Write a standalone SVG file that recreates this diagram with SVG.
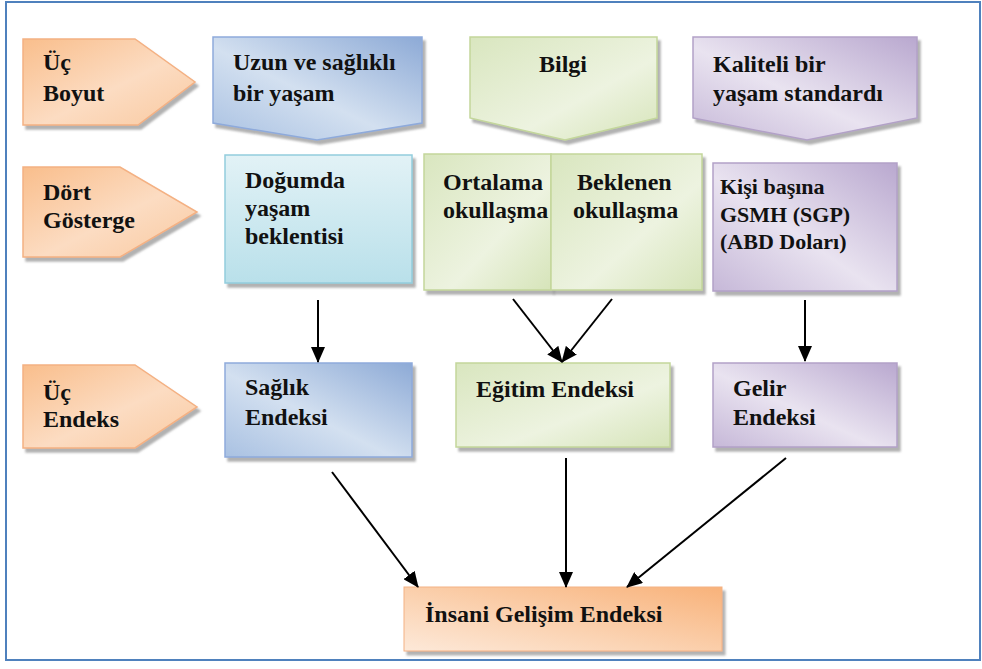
<svg xmlns="http://www.w3.org/2000/svg" width="982" height="669" viewBox="0 0 982 669">
<style>
  text { font-family: "Liberation Serif", "Times New Roman", serif; font-weight: bold; fill: #111; font-size: 24px; }
  .small { font-size: 22px; }
  .conn { stroke: #000; stroke-width: 2; fill: none; marker-end: url(#ah); }
  .shape { filter: url(#sh); stroke-width: 1.5; }
  .orange { fill: url(#gOrange); stroke: #F4B183; }
  .blue { fill: url(#gBlue); stroke: #8EAADB; }
  .cyan { fill: url(#gCyan); stroke: #93CDDD; }
  .green { fill: url(#gGreen); stroke: #C3D69B; }
  .purple { fill: url(#gPurple); stroke: #B2A1C7; }
</style>
<defs>
  <filter id="sh" x="-10%" y="-10%" width="125%" height="130%">
    <feDropShadow dx="3" dy="4" stdDeviation="1" flood-color="#7f7f7f" flood-opacity="0.6"/>
  </filter>
  <linearGradient id="gOrange" x1="0" y1="0" x2="1" y2="1">
    <stop offset="0" stop-color="#F9BE8C"/>
    <stop offset="0.55" stop-color="#FCDCC2"/>
    <stop offset="1" stop-color="#F9C9A0"/>
  </linearGradient>
  <linearGradient id="gOrange2" x1="1" y1="0" x2="0" y2="1">
    <stop offset="0" stop-color="#F8B27A"/>
    <stop offset="0.6" stop-color="#FBD4B4"/>
    <stop offset="1" stop-color="#FDE9D9"/>
  </linearGradient>
  <linearGradient id="gBlue" x1="1" y1="0" x2="0" y2="1">
    <stop offset="0" stop-color="#8DAAD6"/>
    <stop offset="0.55" stop-color="#D3E0F0"/>
    <stop offset="1" stop-color="#A9C1E2"/>
  </linearGradient>
  <linearGradient id="gCyan" x1="0" y1="0" x2="0" y2="1">
    <stop offset="0" stop-color="#E2F2F6"/>
    <stop offset="1" stop-color="#B9E0EA"/>
  </linearGradient>
  <linearGradient id="gGreen" x1="0" y1="0" x2="1" y2="1">
    <stop offset="0" stop-color="#D9E6BF"/>
    <stop offset="0.6" stop-color="#EDF3E0"/>
    <stop offset="1" stop-color="#D6E4B9"/>
  </linearGradient>
  <linearGradient id="gPurple" x1="1" y1="0" x2="0" y2="1">
    <stop offset="0" stop-color="#B9A8CF"/>
    <stop offset="0.55" stop-color="#E9E3F0"/>
    <stop offset="1" stop-color="#C6B8D8"/>
  </linearGradient>
  <marker id="ah" markerUnits="userSpaceOnUse" markerWidth="16" markerHeight="14" refX="15" refY="7" orient="auto">
    <path d="M0,0 L16,7 L0,14 Z" fill="#000"/>
  </marker>
</defs>

<rect x="6" y="2" width="974" height="658" fill="#fff" stroke="#4F81BD" stroke-width="2"/>

<g id="uc-boyut">
  <polygon class="shape orange" points="23,39 135,39 195,82 138,125 23,125"/>
  <text x="43" y="70">Üç</text>
  <text x="43" y="101">Boyut</text>
</g>
<g id="uzun-saglikli">
  <polygon class="shape blue" points="213,37 422,37 422,123 317,140 213,123"/>
  <text x="233" y="70">Uzun ve sağlıklı</text>
  <text x="233" y="101">bir yaşam</text>
</g>
<g id="bilgi">
  <polygon class="shape green" points="470,37 657,37 657,118 565,140 470,118"/>
  <text x="563" y="72" text-anchor="middle">Bilgi</text>
</g>
<g id="kaliteli">
  <polygon class="shape purple" points="693,37 917,37 917,118 807,140 693,118"/>
  <text x="713" y="72">Kaliteli bir</text>
  <text x="713" y="101">yaşam standardı</text>
</g>

<g id="dort-gosterge">
  <polygon class="shape orange" points="23,167 120,167 197,212 120,257 23,257"/>
  <text x="43" y="200">Dört</text>
  <text x="43" y="228">Gösterge</text>
</g>
<g id="dogumda">
  <rect class="shape cyan" x="225" y="155" width="187" height="128"/>
  <text x="245" y="188">Doğumda</text>
  <text x="245" y="216">yaşam</text>
  <text x="245" y="244">beklentisi</text>
</g>
<g id="ortalama">
  <rect class="shape green" x="424" y="154" width="127" height="136"/>
  <text x="443" y="190">Ortalama</text>
  <text x="443" y="218">okullaşma</text>
</g>
<g id="beklenen">
  <rect class="shape green" x="551" y="154" width="151" height="136"/>
  <text x="577" y="190">Beklenen</text>
  <text x="573" y="218">okullaşma</text>
</g>
<g id="kisi-basina">
  <rect class="shape purple" x="713" y="163" width="184" height="128"/>
  <text class="small" x="720" y="194">Kişi başına</text>
  <text class="small" x="720" y="222">GSMH (SGP)</text>
  <text class="small" x="720" y="249">(ABD Doları)</text>
</g>

<g id="uc-endeks">
  <polygon class="shape orange" points="23,365 135,365 197,407 135,448 23,448"/>
  <text x="43" y="400">Üç</text>
  <text x="43" y="427">Endeks</text>
</g>
<g id="saglik-endeksi">
  <rect class="shape blue" x="225" y="363" width="187" height="94"/>
  <text x="245" y="395">Sağlık</text>
  <text x="245" y="425">Endeksi</text>
</g>
<g id="egitim-endeksi">
  <rect class="shape green" x="456" y="363" width="214" height="84"/>
  <text x="476" y="397">Eğitim Endeksi</text>
</g>
<g id="gelir-endeksi">
  <rect class="shape purple" x="713" y="363" width="184" height="84"/>
  <text x="733" y="396">Gelir</text>
  <text x="733" y="425">Endeksi</text>
</g>

<g id="insani-gelisim">
  <rect x="404" y="587" width="318" height="64" fill="url(#gOrange2)" stroke="#F4B183" stroke-width="1" filter="url(#sh)"/>
  <text x="425" y="622">İnsani Gelişim Endeksi</text>
</g>

<g id="connectors">
  <line class="conn" x1="318" y1="300" x2="318" y2="362"/>
  <line class="conn" x1="513" y1="299" x2="562" y2="362"/>
  <line class="conn" x1="612" y1="299" x2="562" y2="362"/>
  <line class="conn" x1="805" y1="300" x2="805" y2="361"/>
  <line class="conn" x1="332" y1="472" x2="418" y2="587"/>
  <line class="conn" x1="566" y1="458" x2="566" y2="587"/>
  <line class="conn" x1="786" y1="458" x2="627" y2="587"/>
</g>
</svg>
